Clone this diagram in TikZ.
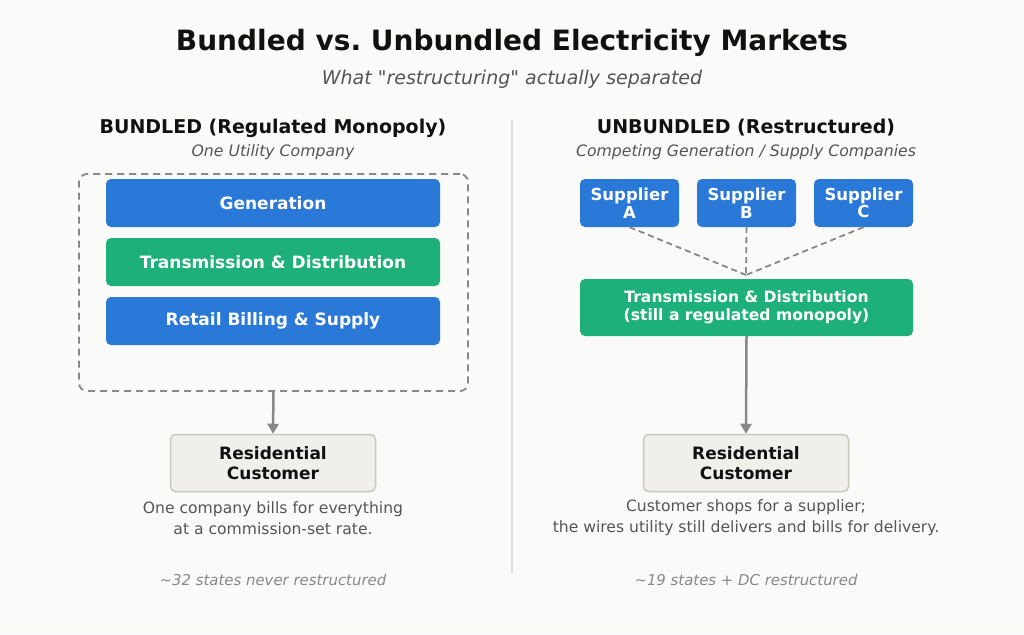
\documentclass[tikz,border=0pt]{standalone}
\usepackage{fontspec}
\setmainfont{DejaVu Sans}
\usetikzlibrary{arrows.meta}
\frenchspacing
\definecolor{bg}{HTML}{FAFAF8}
\definecolor{blu}{HTML}{2A79D8}
\definecolor{grn}{HTML}{1EB07A}
\definecolor{ink}{HTML}{111111}
\definecolor{txtgray}{HTML}{555555}
\definecolor{notegray}{HTML}{888888}
\definecolor{custfill}{HTML}{F0EFEB}
\definecolor{custline}{HTML}{C8C8BC}
\definecolor{wire}{HTML}{888888}
\definecolor{divider}{HTML}{DDDDDD}

\begin{document}
\begin{tikzpicture}[x=1pt,y=-1pt,
  layer/.style={rounded corners=5pt,minimum width=334pt,minimum height=48pt,inner sep=0pt,
    text=white,font=\fontsize{17}{20}\selectfont\bfseries},
  supplier/.style={rounded corners=5pt,fill=blu,minimum width=99pt,minimum height=48pt,inner sep=0pt,
    text=white,align=center,font=\fontsize{16.5}{17.5}\selectfont\bfseries},
  customer/.style={draw=custline,line width=1.5pt,fill=custfill,rounded corners=5pt,
    minimum width=205pt,minimum height=57pt,inner sep=0pt,align=center,text=ink,
    font=\fontsize{17}{20}\selectfont\bfseries},
  heading/.style={text=ink,font=\fontsize{19}{22}\selectfont\bfseries},
  subhead/.style={text=txtgray,font=\fontsize{15.7}{18}\selectfont\itshape},
  desc/.style={text=txtgray,align=center,font=\fontsize{15.6}{21}\selectfont},
  note/.style={text=notegray,font=\fontsize{14.9}{17}\selectfont\itshape},
  feed/.style={draw=wire,line width=2.5pt,-{Triangle[length=10pt,width=11pt]}},
  link/.style={draw=wire,line width=1.8pt,dash pattern=on 6pt off 4pt}]
  \fill[bg] (0,0) rectangle (1024,634);
  \useasboundingbox (0,0) rectangle (1024,634);
  % titles
  \node (title) at (512,43) {\fontsize{28}{32}\selectfont\bfseries\color{ink}Bundled vs. Unbundled Electricity Markets};
  \node[text=txtgray,font=\fontsize{19}{22}\selectfont\itshape] (subtitle) at (512,79) {What \textquotedbl restructuring\textquotedbl{} actually separated};
  \draw[divider,line width=1.5pt] (512,120) -- (512,573);
  % bundled side
  \node[heading] (headL) at (273,128) {BUNDLED (Regulated Monopoly)};
  \node[subhead] (subL) at (273,152) {One Utility Company};
  \node[draw=wire,line width=1.8pt,dash pattern=on 7pt off 5pt,rounded corners=8pt,
    minimum width=389pt,minimum height=217pt] (utility) at (273.5,282.5) {};
  \node[layer,fill=blu] (gen) at (273,203) {Generation};
  \node[layer,fill=grn] (td) at (273,262) {Transmission \& Distribution};
  \node[layer,fill=blu] (retail) at (273,321) {Retail Billing \& Supply};
  \node[customer] (custL) at (273,463) {Residential\\Customer};
  \draw[feed] (utility.south) -- (custL.north);
  \node[desc] (descL) at (273,518) {One company bills for everything\\at a commission-set rate.};
  \node[note] (noteL) at (273,580) {\textasciitilde32 states never restructured};
  % unbundled side
  \node[heading] (headR) at (746,128) {UNBUNDLED (Restructured)};
  \node[subhead] (subR) at (746,152) {Competing Generation / Supply Companies};
  \node[supplier] (supA) at (629.5,203) {Supplier\\A};
  \node[supplier] (supB) at (746.5,203) {Supplier\\B};
  \node[supplier] (supC) at (863.5,203) {Supplier\\C};
  \coordinate (hub) at (746,275);
  \foreach \s in {supA,supB,supC}
    \draw[link] (\s.south) -- (hub);
  \node[layer,fill=grn,minimum width=333pt,minimum height=57pt,align=center,
    font=\fontsize{15.6}{18}\selectfont\bfseries] (tdR) at (746.5,307.5) {Transmission \& Distribution\\(still a regulated monopoly)};
  \node[customer] (custR) at (746,463) {Residential\\Customer};
  \draw[feed] (tdR.south) -- (custR.north);
  \node[desc] (descR) at (746,518) {Customer shops for a supplier;\\the wires utility still delivers and bills for delivery.};
  \node[note] (noteR) at (746,580) {\textasciitilde19 states + DC restructured};
\end{tikzpicture}
\end{document}
